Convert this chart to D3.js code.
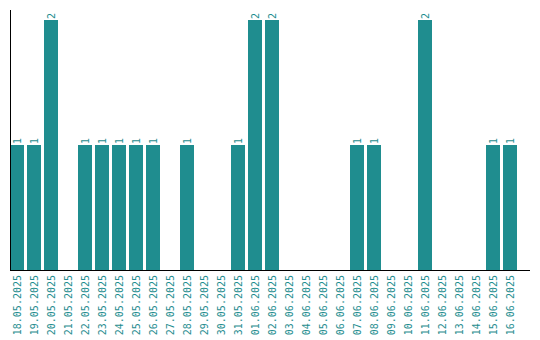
<!DOCTYPE html>
<html>
<head>
<meta charset="utf-8">
<script src="https://cdn.jsdelivr.net/npm/d3@7"></script>
<style>
  body { margin: 0; background: #fff; }
  text { font-family: "DejaVu Sans Mono", monospace; }
</style>
</head>
<body>
<svg id="chart" width="540" height="340"></svg>
<script>
// Data
const dates = ['18.05.2025', '19.05.2025', '20.05.2025', '21.05.2025', '22.05.2025', '23.05.2025',
  '24.05.2025', '25.05.2025', '26.05.2025', '27.05.2025', '28.05.2025', '29.05.2025', '30.05.2025',
  '31.05.2025', '01.06.2025', '02.06.2025', '03.06.2025', '04.06.2025', '05.06.2025', '06.06.2025',
  '07.06.2025', '08.06.2025', '09.06.2025', '10.06.2025', '11.06.2025', '12.06.2025', '13.06.2025',
  '14.06.2025', '15.06.2025', '16.06.2025'];
const counts = [1, 1, 2, 0, 1, 1, 1, 1, 1, 0, 1, 0, 0, 1, 2, 2, 0, 0, 0, 0, 1, 1, 0, 0, 2, 0, 0, 0, 1, 1];

// Colors
const teal = '#1f8d8f';

const svg = d3.select('#chart');
const left = 10;
const baseline = 270;
const step = 17;

// step of 17px, bars 14px wide
const x = d3.scaleBand()
  .domain(dates)
  .range([left, left + (dates.length - 1) * step + 14])
  .paddingInner(3 / step)
  .paddingOuter(0);

const y = d3.scaleLinear()
  .domain([0, 2])
  .range([baseline, 20]);

const rows = dates.map((d, i) => ({date: d, value: counts[i]}));

// Bars
svg.append('g')
  .selectAll('rect')
  .data(rows)
  .join('rect')
  .attr('x', d => x(d.date))
  .attr('y', d => y(d.value))
  .attr('width', x.bandwidth())
  .attr('height', d => baseline - y(d.value))
  .attr('fill', teal);

// Value labels
svg.append('g')
  .selectAll('text')
  .data(rows.filter(d => d.value > 0))
  .join('text')
  .attr('transform', d => `translate(${x(d.date) + x.bandwidth() / 2 + 4},${y(d.value) - 1}) rotate(-90)`)
  .attr('font-size', 10)
  .attr('fill', teal)
  .text(d => d.value);

// Axes
svg.append('line')
  .attr('x1', left + 0.5).attr('x2', left + 0.5)
  .attr('y1', 10).attr('y2', baseline)
  .attr('stroke', '#000');

svg.append('line')
  .attr('x1', left).attr('x2', 530)
  .attr('y1', baseline + 0.5).attr('y2', baseline + 0.5)
  .attr('stroke', '#000');

// Tick labels
svg.append('g')
  .selectAll('text')
  .data(dates)
  .join('text')
  .attr('transform', d => `translate(${x(d) + x.bandwidth() / 2 + 4},${baseline + 5}) rotate(-90)`)
  .attr('text-anchor', 'end')
  .attr('font-size', 10)
  .attr('fill', teal)
  .text(d => d);
</script>
</body>
</html>
